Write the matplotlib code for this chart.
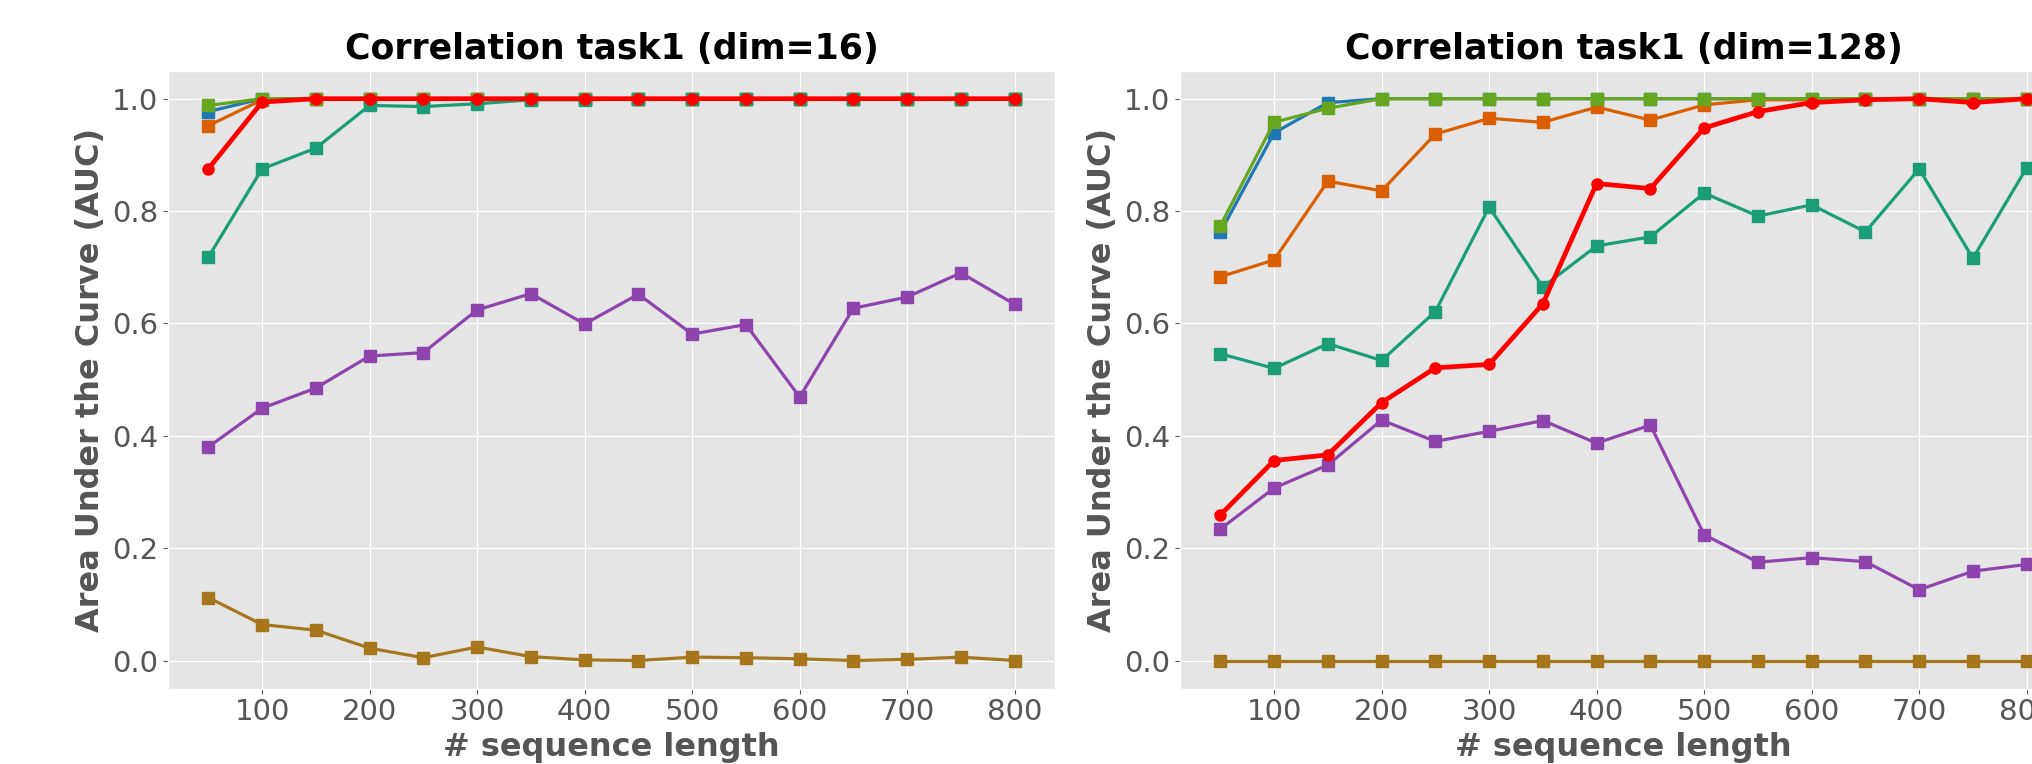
import matplotlib
matplotlib.use("Agg")
import matplotlib.pyplot as plt

plt.style.use("ggplot")
plt.rcParams['font.family'] = ['DejaVu Sans']

seq_len = [50, 100, 150, 200, 250, 300, 350, 400, 450, 500, 550, 600, 650, 700, 750, 800]

# dim=16
d16_blue   = [0.977, 1.0, 1.0, 1.0, 1.0, 1.0, 1.0, 1.0, 1.0, 1.0, 1.0, 1.0, 1.0, 1.0, 1.0, 1.0]
d16_orange = [0.952, 0.998, 1.0, 1.0, 1.0, 1.0, 1.0, 1.0, 1.0, 1.0, 1.0, 1.0, 1.0, 1.0, 1.0, 1.0]
d16_lime   = [0.988, 1.0, 1.0, 1.0, 1.0, 1.0, 1.0, 1.0, 1.0, 1.0, 1.0, 1.0, 1.0, 1.0, 1.0, 1.0]
d16_teal   = [0.718, 0.875, 0.912, 0.988, 0.986, 0.991, 0.998, 0.998, 1.0, 1.0, 1.0, 1.0, 1.0, 1.0, 1.0, 1.0]
d16_purple = [0.380, 0.449, 0.485, 0.542, 0.548, 0.624, 0.653, 0.599, 0.652, 0.581, 0.598, 0.469, 0.627, 0.647, 0.690, 0.634]
d16_brown  = [0.112, 0.064, 0.054, 0.022, 0.005, 0.024, 0.007, 0.001, 0.000, 0.006, 0.005, 0.003, 0.000, 0.002, 0.006, 0.000]
d16_red    = [0.875, 0.994, 1.0, 1.0, 1.0, 1.0, 1.0, 1.0, 1.0, 1.0, 1.0, 1.0, 1.0, 1.0, 1.0, 1.0]

# dim=128
d128_blue   = [0.762, 0.939, 0.993, 1.0, 1.0, 1.0, 1.0, 1.0, 1.0, 1.0, 1.0, 1.0, 1.0, 1.0, 1.0, 1.0]
d128_orange = [0.683, 0.713, 0.853, 0.836, 0.937, 0.965, 0.958, 0.985, 0.962, 0.989, 0.998, 0.998, 1.0, 1.0, 1.0, 1.0]
d128_lime   = [0.774, 0.958, 0.983, 1.0, 1.0, 1.0, 1.0, 1.0, 1.0, 1.0, 1.0, 1.0, 1.0, 1.0, 1.0, 1.0]
d128_teal   = [0.546, 0.520, 0.564, 0.534, 0.621, 0.807, 0.665, 0.738, 0.754, 0.832, 0.791, 0.811, 0.763, 0.875, 0.716, 0.877]
d128_purple = [0.234, 0.307, 0.348, 0.428, 0.390, 0.408, 0.427, 0.387, 0.419, 0.224, 0.175, 0.183, 0.176, 0.126, 0.159, 0.171]
d128_brown  = [0.0] * 16
d128_red    = [0.259, 0.356, 0.366, 0.459, 0.521, 0.527, 0.635, 0.849, 0.840, 0.948, 0.977, 0.993, 0.998, 1.0, 0.993, 1.0]

titles = ["Correlation task1 (dim=16)", "Correlation task1 (dim=128)"]

colors = {
    "blue": "#1f77b4", "orange": "#d95f02", "lime": "#66a61e",
    "teal": "#1b9e77", "purple": "#8e44ad", "brown": "#a6761d", "red": "#ff0000",
}

W, H = 2033, 764
fig = plt.figure(figsize=(W / 100, H / 100), dpi=100)
ax_w = 887 / W
ax_h = 618 / H
ax_b = (H - 688.6) / H
ax1 = fig.add_axes([168 / W, ax_b, ax_w, ax_h])
ax2 = fig.add_axes([1180 / W, ax_b, ax_w, ax_h])

datasets = [
    (d16_blue, d16_orange, d16_lime, d16_teal, d16_purple, d16_brown, d16_red),
    (d128_blue, d128_orange, d128_lime, d128_teal, d128_purple, d128_brown, d128_red),
]

for ax, title, data in zip([ax1, ax2], titles, datasets):
    blue, orange, lime, teal, purple, brown, red = data
    for vals, c in [(blue, "blue"), (orange, "orange"), (lime, "lime"),
                    (teal, "teal"), (purple, "purple"), (brown, "brown")]:
        ax.plot(seq_len, vals, color=colors[c], marker="s", markersize=8.5, linewidth=2.3)
    ax.plot(seq_len, red, color=colors["red"], marker="o", markersize=8, linewidth=3.4, zorder=5)
    ax.set_title(title, fontsize=25, fontweight="bold", color="black", pad=8)
    ax.set_xlabel("# sequence length", fontsize=23, fontweight="bold", color="#555555", labelpad=4)
    ax.set_ylabel("Area Under the Curve (AUC)", fontsize=23, fontweight="bold", color="#555555")
    ax.tick_params(labelsize=21, colors="#555555")
    ax.set_xticks([100, 200, 300, 400, 500, 600, 700, 800])
    ax.set_yticks([0.0, 0.2, 0.4, 0.6, 0.8, 1.0])

fig.savefig("out.png", dpi=100)
